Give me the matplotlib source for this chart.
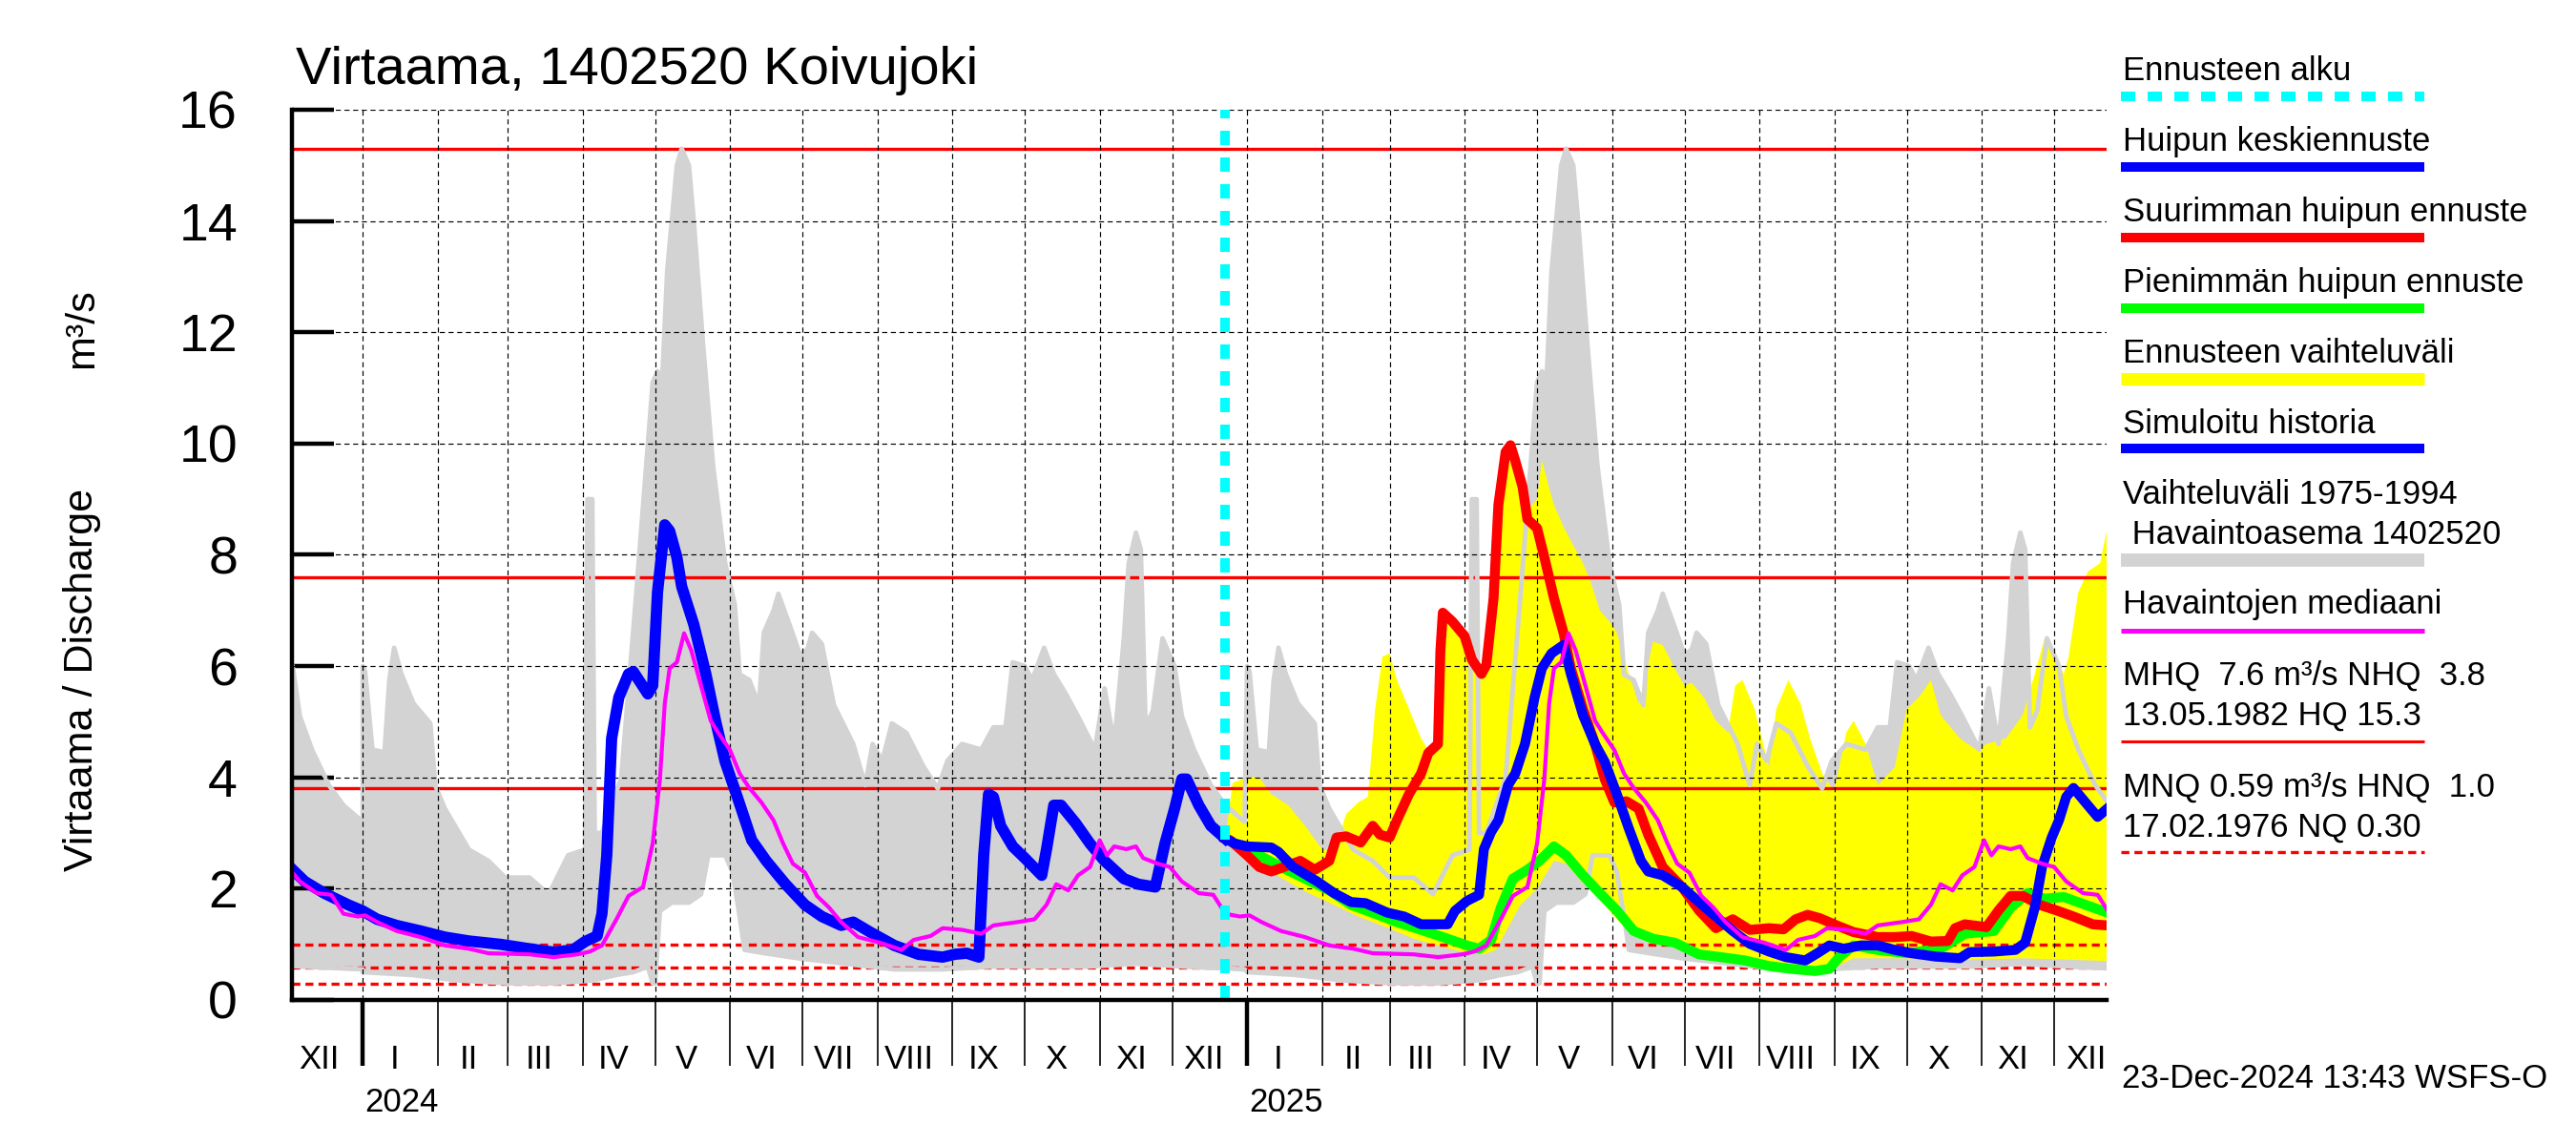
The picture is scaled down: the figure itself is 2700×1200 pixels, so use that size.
import numpy as np
import matplotlib.pyplot as plt
from matplotlib.lines import Line2D
from matplotlib.transforms import blended_transform_factory

plt.rcParams['font.family'] = ['Liberation Sans', 'DejaVu Sans']

# ---- values ----
# 2024 days count from 1 Jan 2024, 2025 days from 1 Jan 2025

# Vaihteluväli 1975-1994, upper and lower edge by day of year (same each year)
band_hi_doy = [0, 1, 4, 9, 11, 13, 16, 21, 28, 30,
               34, 44, 52, 59, 69, 77, 85, 92, 93, 95,
               96, 99, 107, 113, 120, 122, 124, 126, 130, 132,
               135, 137, 141, 145, 150, 154, 156, 160, 164, 166,
               170, 172, 177, 181, 184, 186, 190, 195, 203, 208,
               211, 215, 219, 225, 232, 238, 242, 248, 256, 261,
               266, 269, 274, 277, 282, 286, 291, 296, 303, 307,
               311, 315, 317, 320, 322, 324, 327, 331, 334, 336,
               339, 344, 351, 357, 365]
band_hi = [6.0, 5.9, 4.5, 4.45, 5.75, 6.33, 5.86, 5.33, 4.97, 3.86,
           3.44, 2.7, 2.5, 2.2, 2.2, 1.9, 2.6, 2.7, 9.0, 9.0,
           3.0, 3.0, 4.0, 7.2, 11.1, 11.3, 11.2, 13.1, 15.0, 15.3,
           15.0, 14.0, 11.7, 9.6, 7.85, 7.1, 5.85, 5.75, 5.3, 6.6,
           7.0, 7.3, 6.7, 6.2, 6.3, 6.6, 6.4, 5.3, 4.6, 3.86,
           4.6, 4.3, 4.97, 4.8, 4.2, 3.8, 4.3, 4.6, 4.5, 4.9,
           4.9, 6.07, 6.0, 5.75, 6.33, 5.86, 5.5, 5.1, 4.5, 5.6,
           4.6, 6.5, 7.85, 8.4, 8.1, 4.9, 5.2, 6.5, 6.2, 6.0,
           5.1, 4.5, 3.86, 3.5, 3.2]
band_lo_doy = [0, 20, 40, 60, 80, 95, 105, 112, 118, 120,
               121, 123, 128, 135, 140, 143, 150, 153, 156, 158,
               165, 180, 200, 220, 240, 260, 280, 300, 320, 340,
               365]
band_lo = [0.5, 0.45, 0.35, 0.3, 0.3, 0.35, 0.45, 0.5, 0.6, 0.3,
           0.3, 1.6, 1.75, 1.75, 1.9, 2.6, 2.6, 2.3, 1.5, 0.9,
           0.85, 0.75, 0.65, 0.55, 0.55, 0.6, 0.6, 0.6, 0.65, 0.6,
           0.55]

# Havaintojen mediaani by day of year
median_doy = [1, 6, 14, 24, 34, 44, 52, 69, 79, 89,
              94, 99, 105, 110, 116, 120, 123, 125, 127, 130,
              133, 136, 140, 144, 147, 152, 156, 160, 165, 170,
              174, 178, 183, 188, 193, 198, 205, 214, 223, 228,
              235, 240, 248, 256, 261, 271, 278, 283, 287, 292,
              296, 301, 305, 308, 311, 316, 320, 323, 329, 334,
              339, 346, 352, 357, 363]
median_q = [1.52, 1.4, 1.24, 1.13, 0.98, 0.92, 0.84, 0.82, 0.77, 0.82,
            0.87, 0.98, 1.45, 1.87, 2.03, 2.81, 3.97, 5.33, 5.96, 6.07,
            6.59, 6.28, 5.65, 5.02, 4.81, 4.49, 4.07, 3.81, 3.55, 3.23,
            2.81, 2.45, 2.29, 1.87, 1.66, 1.4, 1.13, 1.03, 0.9, 1.08,
            1.15, 1.29, 1.26, 1.19, 1.34, 1.4, 1.45, 1.71, 2.08, 1.97,
            2.24, 2.39, 2.87, 2.6, 2.76, 2.71, 2.76, 2.55, 2.45, 2.39,
            2.13, 1.92, 1.89, 1.55, 1.5]

# Simuloitu historia (days from 1 Jan 2024)
sim_day = [-29, -24, -16, -6, 0, 6, 14, 24, 34, 44,
           57, 69, 79, 87, 92, 97, 99, 101, 103, 106,
           110, 112, 115, 118, 120, 122, 125, 127, 130, 132,
           137, 142, 146, 150, 155, 161, 167, 175, 183, 190,
           198, 203, 210, 220, 230, 240, 245, 250, 255, 257,
           259, 261, 264, 269, 274, 281, 283, 286, 289, 295,
           301, 307, 315, 321, 328, 332, 336, 339, 341, 346,
           351, 357]
sim_q = [2.34, 2.13, 1.92, 1.71, 1.6, 1.45, 1.34, 1.24, 1.13, 1.06,
         1.0, 0.92, 0.86, 0.9, 1.05, 1.15, 1.55, 2.6, 4.7, 5.44,
         5.86, 5.9, 5.7, 5.5, 5.65, 7.33, 8.54, 8.43, 7.96, 7.43,
         6.75, 5.86, 5.02, 4.28, 3.65, 2.87, 2.5, 2.08, 1.71, 1.5,
         1.34, 1.4, 1.22, 0.98, 0.82, 0.77, 0.82, 0.84, 0.77, 2.6,
         3.7, 3.65, 3.13, 2.76, 2.55, 2.24, 2.71, 3.5, 3.5, 3.18,
         2.81, 2.5, 2.18, 2.08, 2.03, 2.81, 3.44, 3.97, 3.97, 3.5,
         3.13, 2.9]

# Huipun keskiennuste (days from 1 Jan 2025)
mean_day = [-9, -5, 0, 10, 13, 19, 29, 36, 43, 49,
            58, 65, 72, 83, 86, 91, 96, 98, 101, 104,
            108, 111, 115, 119, 122, 126, 131, 134, 139, 144,
            148, 153, 158, 163, 166, 172, 180, 187, 194, 201,
            208, 216, 223, 231, 236, 241, 247, 254, 261, 268,
            275, 285, 295, 299, 309, 318, 322, 326, 329, 333,
            336, 339, 342, 346, 352, 356]
mean_q = [2.9, 2.81, 2.76, 2.74, 2.66, 2.39, 2.13, 1.92, 1.76, 1.74,
          1.57, 1.5, 1.36, 1.36, 1.6, 1.78, 1.89, 2.71, 3.02, 3.23,
          3.86, 4.07, 4.6, 5.44, 5.96, 6.23, 6.38, 5.86, 5.12, 4.6,
          4.28, 3.7, 3.08, 2.5, 2.31, 2.24, 2.03, 1.76, 1.5, 1.24,
          1.01, 0.87, 0.77, 0.71, 0.84, 0.98, 0.92, 0.98, 0.98, 0.9,
          0.84, 0.78, 0.75, 0.86, 0.87, 0.9, 1.03, 1.66, 2.39, 2.92,
          3.23, 3.65, 3.81, 3.6, 3.29, 3.44]

# Suurimman huipun ennuste
max_day = [-9, -7, 0, 5, 10, 14, 22, 28, 34, 37,
           41, 47, 52, 55, 59, 62, 67, 72, 75, 79,
           80, 81, 85, 90, 93, 97, 99, 102, 104, 107,
           109, 111, 114, 116, 120, 123, 127, 131, 134, 139,
           144, 148, 152, 157, 162, 166, 172, 180, 187, 194,
           201, 208, 216, 222, 227, 232, 237, 244, 251, 261,
           268, 275, 283, 290, 293, 297, 306, 311, 316, 321,
           328, 335, 342, 350, 356]
max_q = [2.9, 2.87, 2.6, 2.39, 2.31, 2.37, 2.5, 2.34, 2.5, 2.92,
         2.94, 2.83, 3.13, 2.97, 2.92, 3.23, 3.7, 4.07, 4.44, 4.6,
         6.28, 6.96, 6.8, 6.54, 6.12, 5.86, 6.02, 7.22, 8.9, 9.85,
         9.97, 9.69, 9.22, 8.64, 8.48, 7.96, 7.22, 6.59, 5.96, 5.23,
         4.6, 3.97, 3.55, 3.57, 3.44, 2.97, 2.39, 2.03, 1.61, 1.29,
         1.45, 1.26, 1.29, 1.27, 1.45, 1.53, 1.47, 1.34, 1.22, 1.13,
         1.13, 1.15, 1.05, 1.06, 1.29, 1.36, 1.31, 1.61, 1.87, 1.87,
         1.71, 1.61, 1.5, 1.36, 1.34]

# Pienimmän huipun ennuste
min_day = [-9, -5, 0, 5, 14, 24, 34, 43, 53, 62,
           72, 81, 91, 96, 101, 105, 110, 116, 121, 127,
           132, 139, 146, 153, 160, 168, 177, 187, 196, 206,
           216, 225, 235, 241, 245, 251, 261, 273, 287, 297,
           309, 316, 323, 330, 338, 347, 356]
min_q = [2.9, 2.81, 2.71, 2.6, 2.39, 2.18, 1.97, 1.71, 1.55, 1.4,
         1.26, 1.13, 0.98, 0.92, 1.08, 1.66, 2.18, 2.34, 2.5, 2.76,
         2.6, 2.24, 1.92, 1.61, 1.24, 1.1, 1.03, 0.82, 0.77, 0.71,
         0.61, 0.56, 0.52, 0.56, 0.77, 0.98, 0.9, 0.84, 0.92, 1.19,
         1.24, 1.66, 1.92, 1.82, 1.85, 1.71, 1.57]

# Ennusteen vaihteluväli
range_hi_day = [-9, -6, 0, 5, 10, 17, 24, 31, 36, 41,
                46, 50, 53, 56, 59, 62, 67, 72, 75, 79,
                80, 81, 85, 90, 93, 97, 99, 102, 104, 107,
                109, 111, 114, 116, 120, 122, 125, 127, 131, 135,
                139, 142, 146, 150, 153, 158, 162, 164, 168, 172,
                177, 181, 184, 189, 194, 199, 202, 205, 210, 216,
                219, 224, 229, 233, 238, 243, 248, 251, 256, 261,
                268, 273, 278, 283, 287, 295, 302, 306, 314, 321,
                326, 330, 334, 338, 340, 344, 348, 353, 356]
range_hi = [2.9, 3.9, 4.0, 4.0, 3.7, 3.5, 3.13, 2.71, 2.65, 3.34,
            3.55, 3.65, 5.23, 6.17, 6.23, 5.75, 5.23, 4.7, 4.49, 4.6,
            6.28, 6.96, 6.8, 6.54, 6.12, 5.86, 6.02, 7.22, 8.9, 9.85,
            9.97, 9.69, 9.22, 8.8, 9.0, 9.7, 9.2, 8.9, 8.5, 8.17,
            7.85, 7.54, 7.0, 6.8, 6.6, 5.86, 5.33, 5.65, 6.44, 6.38,
            5.96, 5.65, 5.7, 5.44, 5.02, 4.81, 5.65, 5.75, 5.23, 4.18,
            5.23, 5.75, 5.33, 4.7, 4.07, 3.76, 4.81, 5.02, 4.6, 3.86,
            4.18, 5.23, 5.44, 5.75, 5.12, 4.7, 4.49, 4.6, 4.7, 5.12,
            5.86, 6.49, 6.17, 5.86, 6.17, 7.33, 7.7, 7.85, 8.48]
range_lo_day = [-9, 0, 10, 24, 34, 46, 58, 69, 81, 91,
                98, 103, 108, 113, 120, 127, 132, 139, 146, 153,
                160, 168, 177, 189, 201, 213, 225, 237, 244, 251,
                273, 297, 321, 356]
range_lo = [2.85, 2.55, 2.3, 1.95, 1.75, 1.5, 1.3, 1.1, 0.95, 0.85,
            0.82, 0.9, 1.3, 1.7, 2.0, 2.5, 2.45, 2.1, 1.8, 1.45,
            1.15, 1.0, 0.95, 0.8, 0.7, 0.6, 0.55, 0.5, 0.6, 0.75,
            0.75, 0.72, 0.75, 0.7]

# key discharges
solid_levels = [15.3, 7.6, 3.8]      # HQ, MHQ, NHQ
dashed_levels = [1.0, 0.59, 0.30]    # HNQ, MNQ, NQ

month_names = ['I', 'II', 'III', 'IV', 'V', 'VI',
               'VII', 'VIII', 'IX', 'X', 'XI', 'XII']
forecast_start = '2024-12-23'


def day(s):
    return int((np.datetime64(s) - np.datetime64('2024-01-01')).astype(int))


off23, off24, off25 = day('2023-01-01'), day('2024-01-01'), day('2025-01-01')
offsets = [off23, off24, off25]

fig = plt.figure(figsize=(27, 12), dpi=100)
ax = fig.add_axes([0.11333, 0.12667, 0.70444, 0.7775])

# historical range band (repeated for each year)
hi_x = np.concatenate([o + np.array(band_hi_doy) for o in offsets])
hi_y = np.tile(band_hi, 3)
lo_x = np.concatenate([o + np.array(band_lo_doy) for o in offsets])
lo_y = np.tile(band_lo, 3)
ax.fill(np.r_[hi_x, lo_x[::-1]], np.r_[hi_y, lo_y[::-1]],
        color='#d3d3d3', lw=0, zorder=1)

# forecast range
rx_hi = off25 + np.array(range_hi_day)
rx_lo = off25 + np.array(range_lo_day)
ax.fill(np.r_[rx_hi, rx_lo[::-1]], np.r_[range_hi, range_lo[::-1]],
        color='#ffff00', lw=0, zorder=2)

for v in solid_levels:
    ax.axhline(v, color='red', lw=2.4, zorder=3)
for v in dashed_levels:
    ax.axhline(v, color='red', lw=2.4, ls=(0, (2.5, 1.6)), zorder=3)

# band outline
ax.plot(hi_x, hi_y, color='#d3d3d3', lw=3.5, zorder=4)
ax.plot(lo_x, lo_y, color='#d3d3d3', lw=3.5, zorder=4)

# grid
months = np.arange(np.datetime64('2023-12'), np.datetime64('2026-01'))
month_days = (months.astype('datetime64[D]') - np.datetime64('2024-01-01')).astype(int)
x0, x1 = day('2023-12-03') - 0.3, day('2025-12-23') - 0.3
grid_style = dict(color='black', lw=0.85, ls=(0, (4.5, 3.2)), zorder=5)
for m in month_days:
    if x0 < m < x1:
        ax.axvline(m, **grid_style)
for yv in range(2, 17, 2):
    ax.axhline(yv, **grid_style)

# series
med_x = np.concatenate([o + np.array(median_doy) for o in offsets])
med_y = np.tile(median_q, 3)
ax.plot(off25 + np.array(min_day), min_q, color='#00ff00', lw=7.5, zorder=6)
ax.plot(off25 + np.array(max_day), max_q, color='red', lw=7.5, zorder=6.5)
ax.plot(sim_day, sim_q, color='blue', lw=8.5, zorder=7)
ax.plot(off25 + np.array(mean_day), mean_q, color='blue', lw=7.5, zorder=7)
ax.plot(med_x, med_y, color='#ff00ff', lw=3, zorder=8)
ax.axvline(day(forecast_start), color='cyan', lw=7.2,
           ls=(0, (1.5, 1.3)), zorder=9)

ax.set_xlim(x0, x1)
ax.set_ylim(0, 16)
ax.set_yticks(range(0, 17, 2))
ax.tick_params(axis='y', direction='in', length=32, width=3.2,
               labelsize=40, pad=41)
ax.set_xticks([day('2024-01-01'), day('2025-01-01')])
ax.set_xticks([m for m in month_days if x0 < m < x1], minor=True)
ax.tick_params(axis='x', which='major', direction='out', length=50,
               width=3.2, labelbottom=False)
ax.tick_params(axis='x', which='minor', direction='out', length=50,
               width=1.2, labelbottom=False)
for s in ['top', 'right']:
    ax.spines[s].set_visible(False)
for s in ['left', 'bottom']:
    ax.spines[s].set_linewidth(3.2)
    ax.spines[s].set_zorder(10)

# month and year labels
tr = blended_transform_factory(ax.transData, fig.transFigure)
for mo, m in zip(months, month_days):
    idx = int(mo.astype(int)) % 12
    ax.text(m + 13, 0.0667, month_names[idx], transform=tr, ha='center',
            va='baseline', fontsize=25, clip_on=False)
for yr in ['2024', '2025']:
    ax.text(day(yr + '-01-01') + 1, 0.0292, yr, transform=tr, ha='left',
            va='baseline', fontsize=25)

fig.text(0.1148, 0.9267, 'Virtaama, 1402520 Koivujoki', fontsize=40.5,
         va='baseline')
fig.text(0.032, 0.406, 'Virtaama / Discharge', rotation=90, fontsize=31,
         ha='center', va='center')
fig.text(0.032, 0.713, 'm³/s', rotation=90, fontsize=31,
         ha='center', va='center')
fig.text(0.8237, 0.05, '23-Dec-2024 13:43 WSFS-O', fontsize=25,
         va='baseline')

# legend drawn by hand on the right
lx0, lx1, tx = 0.8233, 0.9411, 0.8241
legend_rows = [
    (['Ennusteen alku'], [0.93], 0.9158,
     dict(color='cyan', lw=7.2, ls=(0, (1.5, 1.3)))),
    (['Huipun keskiennuste'], [0.8683], 0.8542, dict(color='blue', lw=7.2)),
    (['Suurimman huipun ennuste'], [0.8067], 0.7925, dict(color='red', lw=7.2)),
    (['Pienimmän huipun ennuste'], [0.745], 0.7308, dict(color='#00ff00', lw=7.2)),
    (['Ennusteen vaihteluväli'], [0.6833], 0.6692, dict(color='#ffff00', lw=9.4)),
    (['Simuloitu historia'], [0.6217], 0.6083, dict(color='blue', lw=7.2)),
    (['Vaihteluväli 1975-1994', ' Havaintoasema 1402520'], [0.56, 0.525],
     0.5108, dict(color='#d3d3d3', lw=10)),
    (['Havaintojen mediaani'], [0.4642], 0.4492, dict(color='#ff00ff', lw=3.6)),
    (['MHQ  7.6 m³/s NHQ  3.8', '13.05.1982 HQ 15.3'], [0.4017, 0.3667],
     0.3525, dict(color='red', lw=2.2)),
    (['MNQ 0.59 m³/s HNQ  1.0', '17.02.1976 NQ 0.30'], [0.3042, 0.2692],
     0.2558, dict(color='red', lw=2.4, ls=(0, (2.5, 1.6)))),
]
for texts, ys, ly, style in legend_rows:
    for t, y in zip(texts, ys):
        fig.text(tx, y, t, fontsize=25, va='baseline')
    fig.add_artist(Line2D([lx0, lx1], [ly, ly], transform=fig.transFigure,
                          solid_capstyle='butt', dash_capstyle='butt', **style))

fig.savefig('out.png', dpi=100)
